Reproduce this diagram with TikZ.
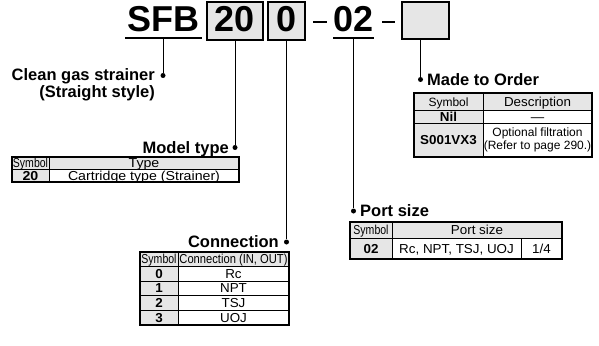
\documentclass[tikz,border=0pt]{standalone}
\usepackage{fontspec}
\setmainfont{Liberation Sans}
\newfontfamily\tabfont[FakeStretch=1.03]{Liberation Sans}
\newfontfamily\widefont[FakeStretch=1.09]{Liberation Sans}
\newfontfamily\condfont[FakeStretch=0.81]{Liberation Sans}
\newfontfamily\semifont[FakeStretch=0.86]{Liberation Sans}
\newfontfamily\plainfont{Liberation Sans}
\definecolor{cellgray}{HTML}{E6E6E6}
\begin{document}
\begin{tikzpicture}[x=1pt,y=-1pt,
  hdr/.style={font=\fontsize{36}{36}\selectfont\bfseries, inner sep=0pt, text height=26pt, text depth=4pt},
  hbox/.style={hdr, draw, line width=1.3pt, fill=cellgray, anchor=north west, outer sep=0pt},
  lbl/.style={font=\fontsize{16.5}{18}\selectfont\bfseries, inner sep=0pt},
  dot/.style={circle, fill=black, inner sep=0pt, minimum size=5pt},
  conn/.style={line width=1pt},
  rule/.style={line width=1.3pt},
  frame/.style={line width=1.2pt},
  cell/.style={draw, line width=0.5pt, anchor=north west, inner sep=0pt, outer sep=0pt,
    font=\tabfont\fontsize{13}{14}\selectfont, text height=9.3pt, text depth=0pt},
  gcell/.style={cell, fill=cellgray},
  mcell/.style={draw, line width=0.5pt, anchor=north west, inner sep=0pt, outer sep=0pt,
    font=\plainfont\fontsize{12}{12.5}\selectfont, align=center}
]
\useasboundingbox (0,0) rectangle (599,345);
\fill[white] (0,0) rectangle (599,345);

% ---------- header code ----------
\node[hdr, anchor=base] (sfb) at (163.5,32) {SFB};
\draw[rule] (125,38) -- (202,38);
\node[hbox, minimum width=56pt, minimum height=38pt] (b20) at (207,2) {20};
\node[hbox, minimum width=37pt, minimum height=38pt] (b0) at (268,2) {0};
\draw[line width=1.9pt] (313,22) -- (327,22);
\node[hdr, anchor=base] (p02) at (353.5,32) {02};
\draw[rule] (333,38) -- (374,38);
\draw[line width=1.9pt] (382,22) -- (395,22);
\node[hbox, minimum width=47pt, minimum height=37pt] (bx) at (402,2) {};

% ---------- dots and connectors ----------
\coordinate (sfbU) at (163,38);
\coordinate (p02U) at (353.5,38);
\node[dot] (d1) at (163,75.5) {};
\node[dot] (d2) at (235,147.5) {};
\node[dot] (d3) at (286.5,242) {};
\node[dot] (d4) at (353.5,211) {};
\node[dot] (d5) at (420.5,79.5) {};
\draw[conn] (sfbU) -- (d1);
\draw[conn] (b20.south) -- (d2);
\draw[conn] (b0.south) -- (d3);
\draw[conn] (p02U) -- (d4);
\draw[conn] (d5 |- bx.south) -- (d5);

% ---------- labels ----------
\node[lbl, anchor=base east] (l1a) at (155,80.5) {Clean gas strainer};
\node[lbl, anchor=base east] (l1b) at (155,97.5) {(Straight style)};
\node[lbl, anchor=base east] (l2) at (229,153) {Model type};
\node[lbl, anchor=base east] (l3) at (279,247) {Connection};
\node[lbl, anchor=base west] (l4) at (360,216) {Port size};
\node[lbl, anchor=base west] (l5) at (427,85) {Made to Order};

% ---------- Model type table ----------
\node[gcell, minimum width=37pt, minimum height=12pt] (mth1) at (12,157) {\condfont Symbol};
\node[gcell, minimum width=190pt, minimum height=12pt] (mth2) at (49,157) {\widefont Type};
\node[gcell, minimum width=37pt, minimum height=13pt] (mtr1) at (12,169) {\widefont\bfseries 20};
\node[cell, minimum width=190pt, minimum height=13pt] (mtr2) at (49,169) {\widefont Cartridge type (Strainer)};
\draw[frame] (12,157) rectangle (239,182);

% ---------- Connection table ----------
\node[gcell, minimum width=38pt, minimum height=14pt] (cth1) at (140,252) {\condfont Symbol};
\node[gcell, minimum width=111pt, minimum height=14pt] (cth2) at (178,252) {\semifont Connection (IN, OUT)};
\node[gcell, minimum width=38pt, minimum height=14.75pt] (ca1) at (140,266) {\bfseries 0};
\node[cell, minimum width=111pt, minimum height=14.75pt] (cb1) at (178,266) {Rc};
\node[gcell, minimum width=38pt, minimum height=14.75pt] (ca2) at (140,280.75) {\bfseries 1};
\node[cell, minimum width=111pt, minimum height=14.75pt] (cb2) at (178,280.75) {NPT};
\node[gcell, minimum width=38pt, minimum height=14.75pt] (ca3) at (140,295.5) {\bfseries 2};
\node[cell, minimum width=111pt, minimum height=14.75pt] (cb3) at (178,295.5) {TSJ};
\node[gcell, minimum width=38pt, minimum height=14.75pt] (ca4) at (140,310.25) {\bfseries 3};
\node[cell, minimum width=111pt, minimum height=14.75pt] (cb4) at (178,310.25) {UOJ};
\draw[frame] (140,252) rectangle (289,325);

% ---------- Port size table ----------
\node[gcell, minimum width=42pt, minimum height=16pt] (pth1) at (350,222) {\condfont Symbol};
\node[gcell, minimum width=170pt, minimum height=16pt] (pth2) at (392,222) {Port size};
\node[gcell, minimum width=42pt, minimum height=21pt] (pr1) at (350,238) {\bfseries 02};
\node[cell, minimum width=129pt, minimum height=21pt] (pr2) at (392,238) {Rc, NPT, TSJ, UOJ};
\node[cell, minimum width=41pt, minimum height=21pt] (pr3) at (521,238) {1/4};
\draw[frame] (350,222) rectangle (562,259);

% ---------- Made to Order table ----------
\node[gcell, minimum width=69pt, minimum height=17pt] (oh1) at (414,93) {\plainfont\fontsize{12}{13}\selectfont Symbol};
\node[gcell, minimum width=109pt, minimum height=17pt] (oh2) at (483,93) {Description};
\node[gcell, minimum width=69pt, minimum height=13pt] (or1) at (414,110) {\bfseries Nil};
\node[cell, minimum width=109pt, minimum height=13pt] (or2) at (483,110) {—};
\node[gcell, minimum width=69pt, minimum height=34pt] (os1) at (414,123) {\bfseries S001VX3};
\node[mcell, minimum width=109pt, minimum height=34pt] (os2) at (483,123) {Optional filtration\\(Refer to page 290.)};
\draw[frame] (414,93) rectangle (592,157);
\end{tikzpicture}
\end{document}
